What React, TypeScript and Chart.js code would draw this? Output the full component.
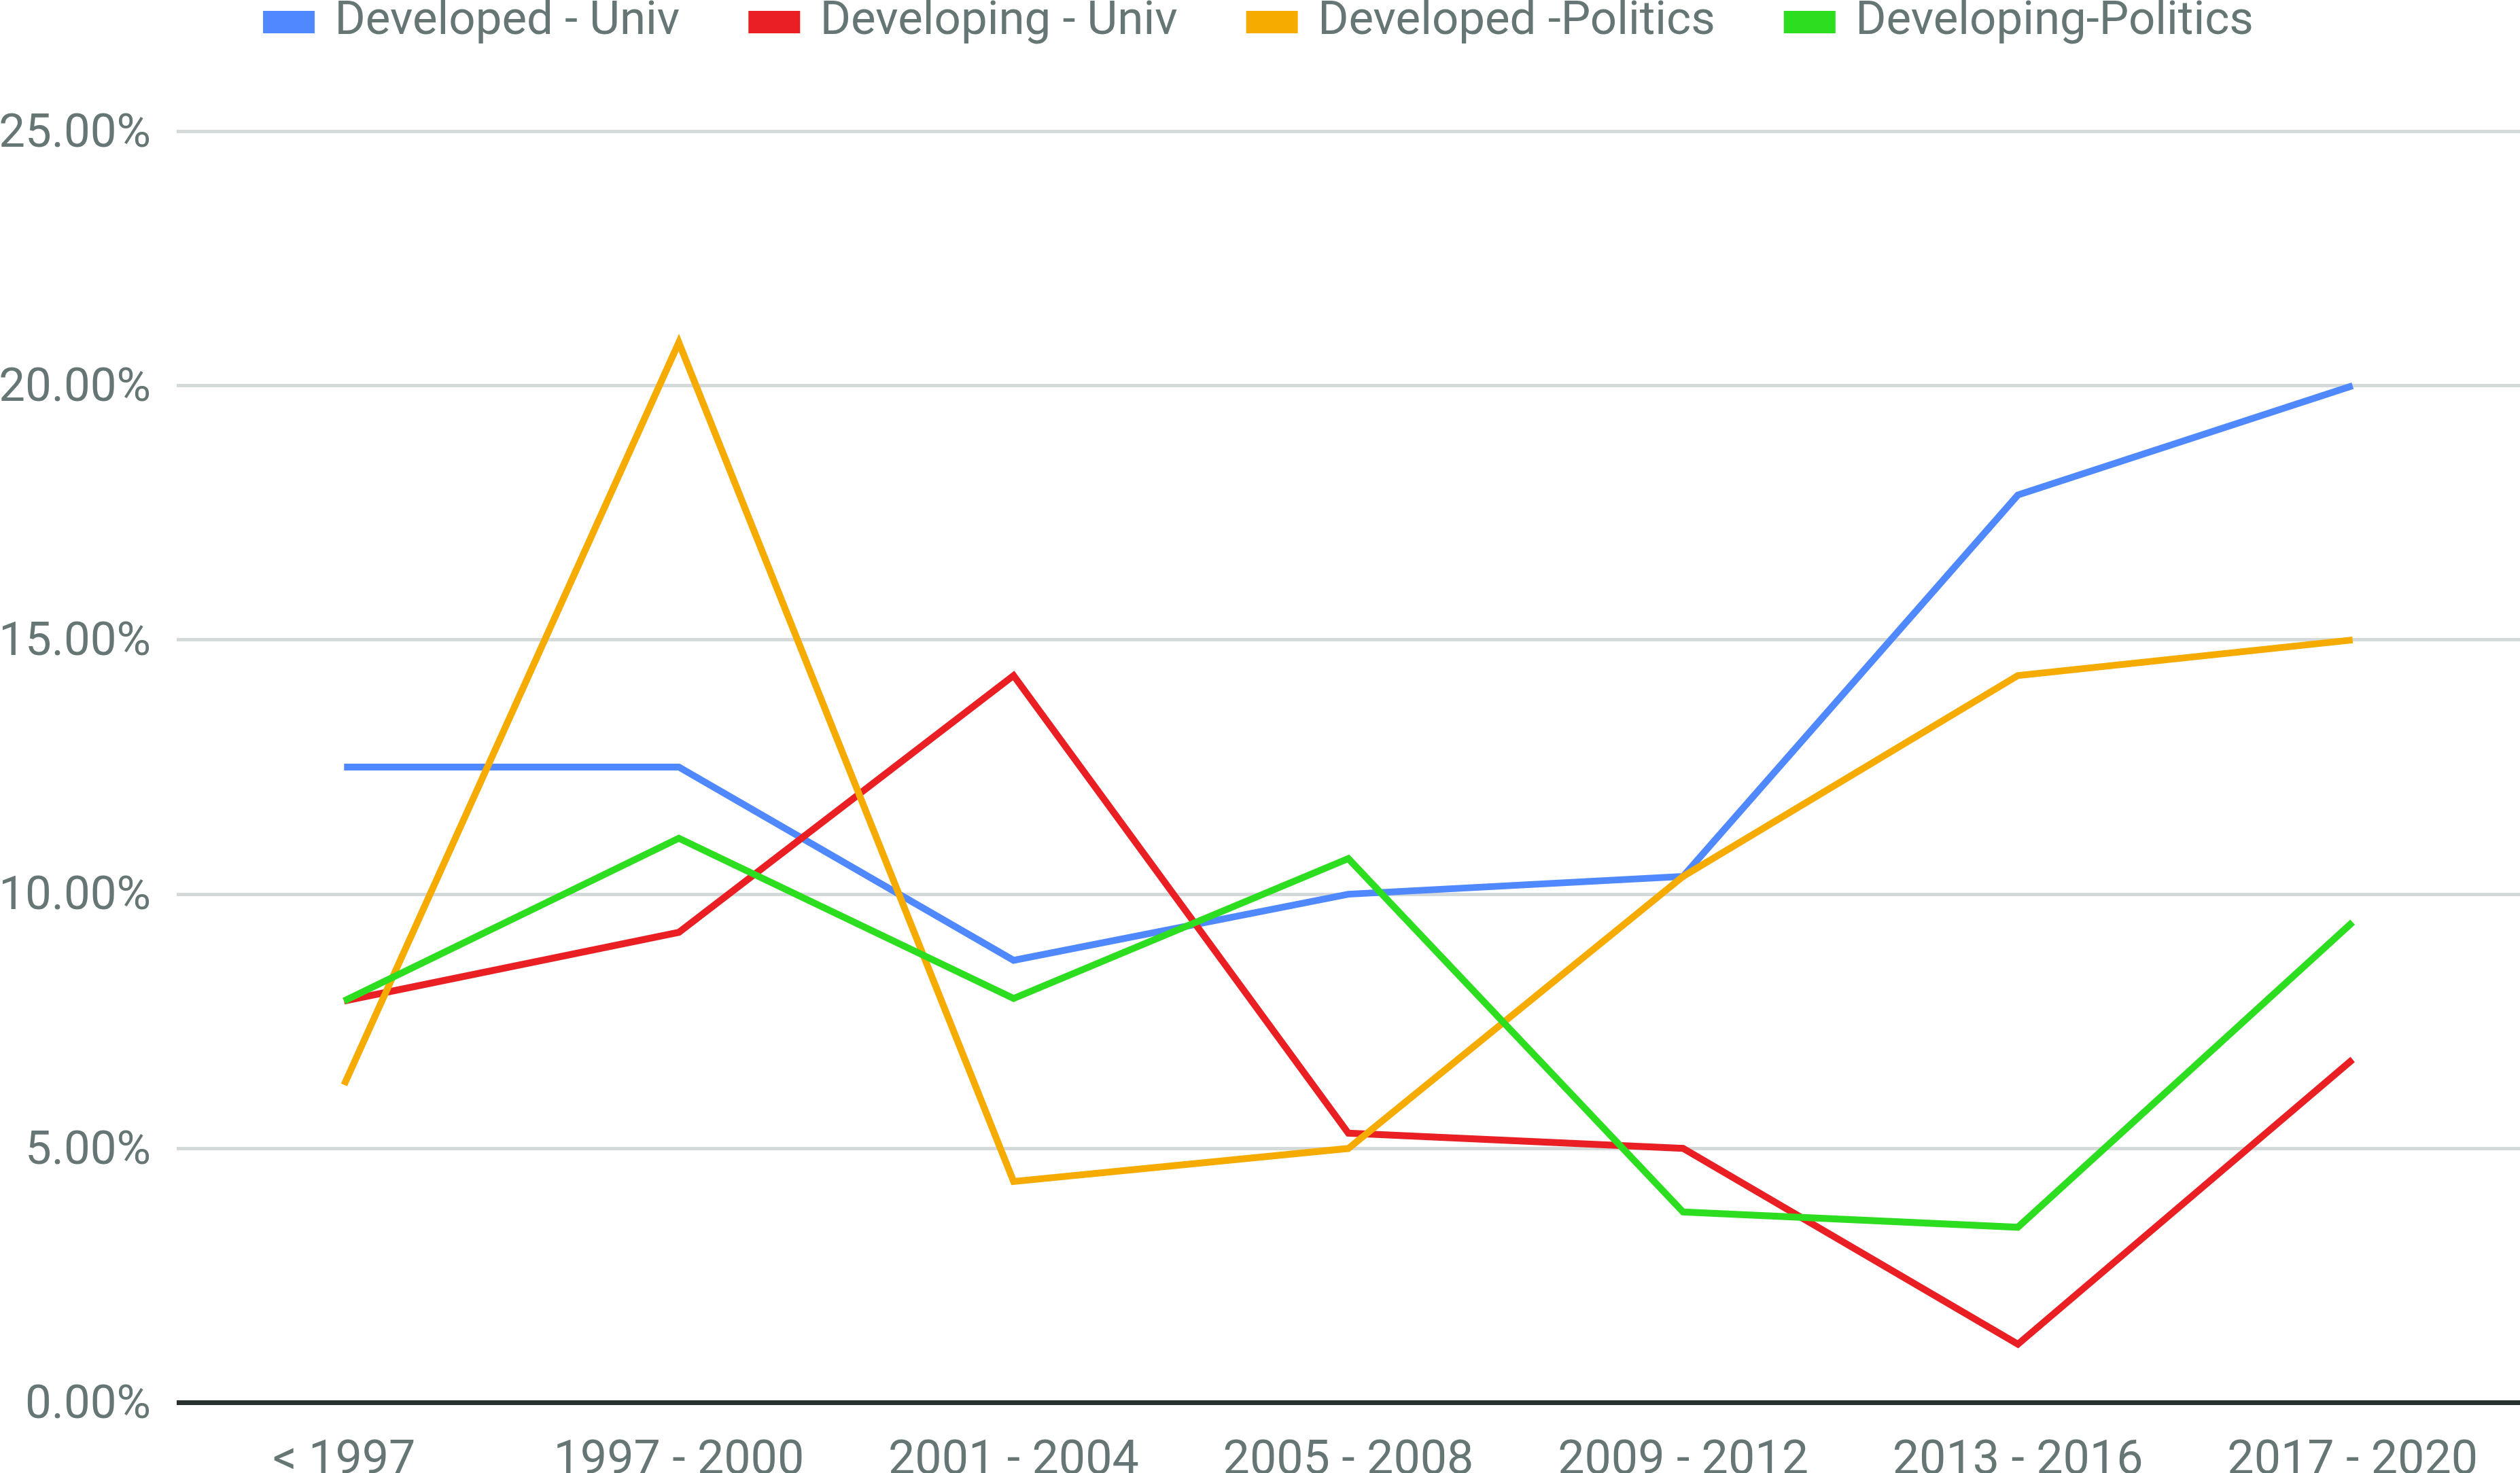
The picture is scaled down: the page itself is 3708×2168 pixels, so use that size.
import React, { useEffect, useRef } from "react";
import { Chart, registerables } from "chart.js";

Chart.register(...registerables);

const categories = ["< 1997", "1997 - 2000", "2001 - 2004", "2005 - 2008", "2009 - 2012", "2013 - 2016", "2017 - 2020"];
const seriesNames = ["Developed - Univ", "Developing - Univ", "Developed -Politics", "Developing-Politics"];
const developedUniv = [12.5, 12.5, 8.7, 10.0, 10.35, 17.85, 20.0];
const developingUniv = [7.9, 9.25, 14.3, 5.3, 5.0, 1.15, 6.75];
const developedPolitics = [6.25, 20.85, 4.35, 5.0, 10.35, 14.3, 15.0];
const developingPolitics = [7.9, 11.1, 7.95, 10.7, 3.75, 3.45, 9.45];
const seriesColors = ["#5089ff", "#ea1f24", "#f6ab00", "#2ddd1f"];
const yTicks = [0, 5, 10, 15, 20, 25];

const W = 3708;
const H = 2168;
const TEXT = "#667675";
const FONT = "Roboto";

export default function App() {
  const ref = useRef<HTMLCanvasElement | null>(null);

  useEffect(() => {
    const canvas = ref.current;
    if (!canvas) return;
    const values = [developedUniv, developingUniv, developedPolitics, developingPolitics];
    const legendShift = {
      id: "legendShift",
      afterLayout(chart: any) {
        const l = chart.legend;
        if (!l) return;
        const h = l.bottom - l.top;
        l.top = -108;
        l.bottom = l.top + h;
      },
    };
    const chart = new Chart(canvas, {
      type: "line",
      data: {
        labels: categories,
        datasets: values.map((v, i) => ({
          label: seriesNames[i],
          data: v,
          borderColor: seriesColors[i],
          backgroundColor: seriesColors[i],
          borderWidth: 10,
          pointRadius: 0,
          tension: 0,
          borderJoinStyle: "miter" as const,
          order: 4 - i,
        })),
      },
      options: {
        responsive: false,
        devicePixelRatio: 1,
        animation: false,
        layout: { padding: { top: 8.5, left: 0, right: 0, bottom: 0 } },
        plugins: {
          tooltip: { enabled: false },
          legend: {
            position: "top",
            align: "center",
            labels: {
              color: TEXT,
              font: { family: FONT, size: 69 },
              boxWidth: 66,
              boxHeight: 23,
              padding: 106,
              sort: (a: any, b: any) => a.datasetIndex - b.datasetIndex,
            },
          },
        },
        scales: {
          x: {
            offset: true,
            grid: { display: false, drawTicks: false },
            border: { display: false },
            ticks: {
              color: TEXT,
              font: { family: FONT, size: 70 },
              padding: 45,
              maxRotation: 0,
              autoSkip: false,
            },
            afterFit: (s: any) => {
              s.height = 103.5;
            },
          },
          y: {
            min: 0,
            max: 25,
            afterBuildTicks: (s: any) => {
              s.ticks = yTicks.map((v) => ({ value: v }));
            },
            grid: {
              drawTicks: false,
              color: (c: any) => (c.tick && c.tick.value === 0 ? "#283030" : "#d3dad9"),
              lineWidth: (c: any) => (c.tick && c.tick.value === 0 ? 7 : 5),
            },
            border: { display: false },
            ticks: {
              color: TEXT,
              font: { family: FONT, size: 69 },
              padding: 38,
              labelOffset: 5,
              callback: (v: any) => Number(v).toFixed(2) + "%",
            },
            afterFit: (s: any) => {
              s.width = 260;
            },
          },
        },
      },
      plugins: [legendShift],
    });
    return () => chart.destroy();
  }, []);

  return (
    <div style={{ position: "fixed", left: 0, top: 0, width: W, height: H, background: "#fff" }}>
      <canvas ref={ref} width={W} height={H} style={{ display: "block", width: W, height: H }} />
    </div>
  );
}
